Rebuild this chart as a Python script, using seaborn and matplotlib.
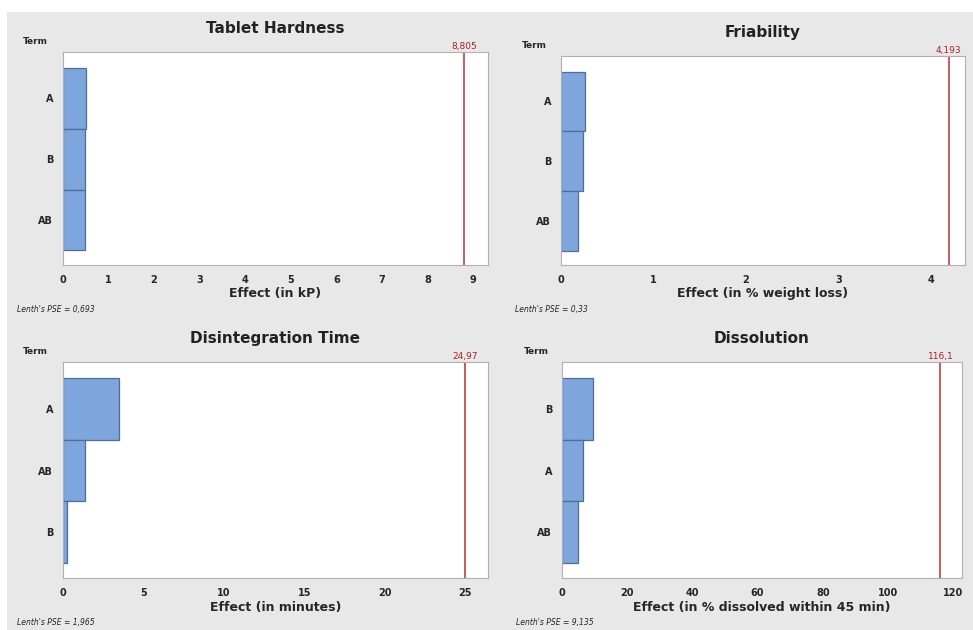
import matplotlib
matplotlib.use("Agg")
import matplotlib.pyplot as plt
import seaborn as sns
import pandas as pd

# ---------------------- Data ----------------------
hardness_terms = ['A', 'B', 'AB']
hardness_effects = [0.50, 0.48, 0.49]
hardness_limit = 8.805
hardness_pse = '0,693'

friability_terms = ['A', 'B', 'AB']
friability_effects = [0.26, 0.24, 0.18]
friability_limit = 4.193
friability_pse = '0,33'

disint_terms = ['A', 'AB', 'B']
disint_effects = [3.5, 1.37, 0.25]
disint_limit = 24.97
disint_pse = '1,965'

dissol_terms = ['B', 'A', 'AB']
dissol_effects = [9.5, 6.4, 5.0]
dissol_limit = 116.1
dissol_pse = '9,135'

# ---------------------- Figure ------------------------------------------------
sns.set_style('white')
plt.rcParams['font.family'] = ['DejaVu Sans']

fig = plt.figure(figsize=(9.73, 6.30), dpi=100)
fig.patch.set_facecolor('white')
# gray panel background like the Minitab export
fig.patches.append(plt.Rectangle((7/973, 0), 1, 1 - 12/630, transform=fig.transFigure,
                                 facecolor='#e8e8e8', edgecolor='none', zorder=-10))

BAR = '#7ea6dc'
EDGE = '#4d6e9c'
RED = '#c0504d'

panels = [
    # title, terms, effects, limit, pse, xlabel, xmax, xticks, limit label, rect
    ('Tablet Hardness', hardness_terms, hardness_effects, hardness_limit, hardness_pse,
     'Effect (in kP)', 9.33, list(range(0, 10)), '8,805',
     [63/973, (630-265)/630, 425/973, 213/630]),
    ('Friability', friability_terms, friability_effects, friability_limit, friability_pse,
     'Effect (in % weight loss)', 4.37, [0, 1, 2, 3, 4], '4,193',
     [561/973, (630-265)/630, 404/973, 209/630]),
    ('Disintegration Time', disint_terms, disint_effects, disint_limit, disint_pse,
     'Effect (in minutes)', 26.4, [0, 5, 10, 15, 20, 25], '24,97',
     [63/973, (630-578)/630, 425/973, 216/630]),
    ('Dissolution', dissol_terms, dissol_effects, dissol_limit, dissol_pse,
     'Effect (in % dissolved within 45 min)', 122.7, [0, 20, 40, 60, 80, 100, 120], '116,1',
     [562/973, (630-578)/630, 400/973, 216/630]),
]

for title, terms, effects, limit, pse, xlabel, xmax, xticks, lim_lbl, rect in panels:
    ax = fig.add_axes(rect)
    df = pd.DataFrame({'Term': terms, 'Effect': effects})
    sns.barplot(data=df, x='Effect', y='Term', order=terms, orient='h', width=1,
                color=BAR, edgecolor=EDGE, linewidth=0.9, saturation=1, ax=ax)
    ax.axvline(limit, color=RED, linewidth=1.3)
    ax.set_xlim(0, xmax)
    ax.set_ylim(2.74, -0.76)
    ax.set_facecolor('white')
    for s in ax.spines.values():
        s.set_color('#b0b0b0')
        s.set_linewidth(0.8)
    ax.set_xticks(xticks)
    ax.set_xticklabels([str(t) for t in xticks], fontsize=7, fontweight='bold')
    ax.set_yticks(range(len(terms)))
    ax.set_yticklabels(terms, fontsize=7, fontweight='bold')
    ax.tick_params(axis='both', length=3, width=0.6, color='#b0b0b0', pad=4)
    ax.set_xlabel(xlabel, fontsize=9, fontweight='bold', labelpad=2)
    ax.set_ylabel('')
    ax.set_title(title, fontsize=11, fontweight='bold', color='#222222', pad=14)
    ax.text(limit, 1.005, lim_lbl, transform=ax.get_xaxis_transform(), color='#b02020',
            fontsize=6.5, ha='center', va='bottom')
    ax.text(-0.065, 1.03, 'Term', transform=ax.transAxes, fontsize=6.5,
            fontweight='bold', ha='center', va='bottom')
    ax.annotate("Lenth's PSE = " + pse, xy=(0, 0), xycoords='axes fraction',
                xytext=(-46, -45), textcoords='offset pixels',
                fontsize=5.5, style='italic', ha='left', va='center')

fig.savefig('out.png', dpi=100, facecolor=fig.get_facecolor())
